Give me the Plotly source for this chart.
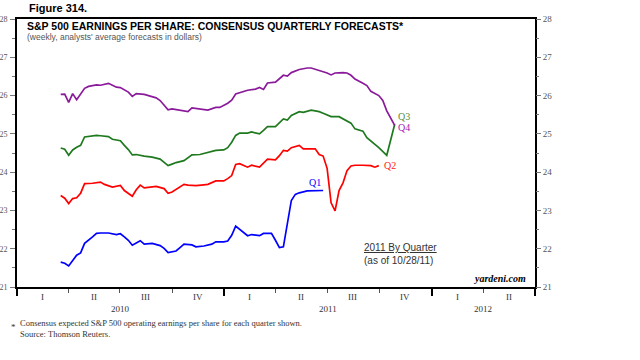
import numpy as np
import pandas as pd
import plotly.graph_objects as go

# weekly observations: week index counted from Friday 2010-01-01
q1_weeks = [11,12,13,14,15,16,17,19,20,21,23,25,26,27,28,29,30,31,32,34,36,37,38,40,41,42,44,45,47,49,50,52,53,54,55,56,57,58,59,61,62,64,65,66,67,68,69,70,71,73,75,77]
q1_vals = [21.65,21.62,21.55,21.69,21.83,21.89,22.14,22.31,22.40,22.41,22.41,22.37,22.39,22.31,22.22,22.09,22.14,22.21,22.12,22.14,22.08,22.01,21.90,21.94,22.03,22.12,22.10,22.05,22.07,22.12,22.18,22.18,22.20,22.35,22.59,22.50,22.41,22.34,22.37,22.34,22.40,22.40,22.22,22.03,22.05,22.66,23.26,23.42,23.46,23.51,23.52,23.52]

q2_weeks = [11,12,13,14,15,16,17,19,21,22,24,26,27,29,30,31,32,35,37,38,39,40,42,43,45,47,48,50,52,53,54,55,56,58,59,61,62,63,65,66,67,68,69,71,72,74,75,76,77,78,79,80,81,82,83,84,85,87,89,90,91]
q2_vals = [23.39,23.32,23.18,23.31,23.33,23.45,23.70,23.71,23.74,23.68,23.61,23.65,23.52,23.37,23.54,23.66,23.59,23.63,23.57,23.45,23.48,23.54,23.68,23.66,23.65,23.67,23.68,23.77,23.77,23.83,23.91,24.20,24.22,24.13,24.18,24.13,24.23,24.34,24.32,24.43,24.57,24.55,24.64,24.70,24.61,24.61,24.61,24.46,24.42,24.10,23.20,22.99,23.52,23.72,24.04,24.16,24.18,24.18,24.17,24.13,24.17]

q3_weeks = [11,12,13,14,15,16,17,18,20,21,23,24,26,27,28,29,30,32,34,36,37,38,39,40,42,43,44,46,48,50,52,53,54,55,56,58,59,61,62,63,65,66,67,68,69,71,72,74,76,77,79,81,82,84,85,87,88,90,91,93,95]
q3_vals = [24.63,24.60,24.44,24.58,24.65,24.70,24.92,24.93,24.96,24.95,24.93,24.86,24.82,24.70,24.59,24.45,24.46,24.42,24.39,24.34,24.25,24.17,24.21,24.25,24.30,24.38,24.45,24.46,24.51,24.57,24.58,24.64,24.78,24.96,25.02,25.02,25.05,25.00,25.09,25.19,25.19,25.30,25.39,25.36,25.48,25.58,25.56,25.62,25.58,25.54,25.45,25.45,25.39,25.28,25.13,25.07,24.90,24.74,24.64,24.44,25.25]

q4_weeks = [11,12,13,14,15,16,17,18,20,21,22,23,24,25,26,27,28,29,30,32,33,35,36,38,39,41,43,44,46,48,50,51,53,54,55,57,58,60,61,62,63,65,66,67,68,69,71,73,74,76,78,79,80,82,83,84,85,87,88,89,91,92,93,95]
q4_vals = [26.03,26.04,25.82,26.05,25.89,26.04,26.19,26.24,26.28,26.27,26.30,26.32,26.27,26.22,26.21,26.14,26.09,25.98,26.05,26.03,26.00,25.94,25.87,25.63,25.65,25.61,25.58,25.68,25.64,25.62,25.69,25.69,25.80,25.88,26.04,26.11,26.14,26.17,26.21,26.16,26.33,26.35,26.43,26.53,26.51,26.60,26.68,26.72,26.72,26.66,26.59,26.54,26.59,26.60,26.59,26.53,26.43,26.32,26.26,26.11,26.00,25.87,25.60,25.22]

series_names = ["Q1", "Q2", "Q3", "Q4"]
series_colors = ["#0000ff", "#ff0000", "#1f7a1f", "#8b1a9b"]
label_colors = ["#0000ff", "#ff2020", "#5a8a3a", "#a020b0"]

quarter_labels = ["I", "II", "III", "IV", "I", "II", "III", "IV", "I", "II"]
quarter_mid = ["2010-02-15", "2010-05-16", "2010-08-15", "2010-11-15",
               "2011-02-15", "2011-05-16", "2011-08-15", "2011-11-15",
               "2012-02-15", "2012-05-16"]
year_labels = ["2010", "2011", "2012"]
year_mid = ["2010-07-02", "2011-07-02", "2012-04-01"]
year_ticks = ["2010-01-01", "2011-01-01", "2012-01-01", "2012-07-01"]
quarter_ticks = ["2010-04-01", "2010-07-01", "2010-10-01", "2011-04-01", "2011-07-01",
                 "2011-10-01", "2012-04-01"]

base = pd.Timestamp("2010-01-01")
def to_dates(w):
    return base + pd.to_timedelta(np.array(w) * 7, unit="D")

weeks_all = [q1_weeks, q2_weeks, q3_weeks, q4_weeks]
vals_all = [q1_vals, q2_vals, q3_vals, q4_vals]

fig = go.Figure()
for name, w, v, c in zip(series_names, weeks_all, vals_all, series_colors):
    fig.add_trace(go.Scatter(x=to_dates(w), y=v, mode="lines", name=name,
                             line=dict(color=c, width=1.7), showlegend=False,
                             hoverinfo="skip"))
# carrier for the right axis
fig.add_trace(go.Scatter(x=[None], y=[None], yaxis="y2", showlegend=False, hoverinfo="skip"))

serif = "Liberation Serif"
sans = "Liberation Sans"
tickfont_l = dict(family=serif, size=8, color="#555555")
tickfont_r = dict(family=serif, size=9, color="#555555")

fig.update_layout(
    width=640, height=360,
    margin=dict(l=17, r=105, t=19, b=73),
    paper_bgcolor="white", plot_bgcolor="white",
    xaxis=dict(type="date", range=["2010-01-01", "2012-07-01"], automargin=False,
               tickvals=year_ticks, ticktext=["", "", "", ""],
               ticks="outside", ticklen=7, tickwidth=1.5, tickcolor="black",
               minor=dict(tickvals=quarter_ticks, ticks="outside", ticklen=4,
                          tickwidth=1, tickcolor="#555555", showgrid=False),
               showgrid=False, zeroline=False,
               showline=True, linewidth=2, linecolor="black", mirror=True),
    yaxis=dict(range=[21, 28], dtick=1, ticks="outside", ticklen=5, tickwidth=1,
               tickcolor="#777777", tickfont=tickfont_l, automargin=False,
               ticklabelstandoff=1,
               minor=dict(dtick=0.5, ticks="outside", ticklen=3, tickcolor="#777777"),
               showgrid=False, zeroline=False,
               showline=True, linewidth=2, linecolor="black", mirror=True),
    yaxis2=dict(range=[21, 28], dtick=1, overlaying="y", side="right", automargin=False,
                ticks="outside", ticklen=5, tickwidth=1, tickcolor="#777777",
                tickfont=tickfont_r,
                minor=dict(dtick=0.5, ticks="outside", ticklen=3, tickcolor="#777777"),
                showgrid=False, zeroline=False, showline=False),
)

fig.add_annotation(text="<b>Figure 314.</b>", xref="paper", yref="paper",
                   x=0.019, y=1.0, yshift=11, xanchor="left", yanchor="middle",
                   showarrow=False, font=dict(family=sans, size=11, color="black"))
fig.add_annotation(text="<b>S&P 500 EARNINGS PER SHARE: CONSENSUS QUARTERLY FORECASTS*</b>",
                   xref="paper", yref="paper", x=0.015, y=0.975,
                   xanchor="left", yanchor="middle", showarrow=False,
                   font=dict(family=sans, size=10.5, color="black"))
fig.add_annotation(text="(weekly, analysts' average forecasts in dollars)",
                   xref="paper", yref="paper", x=0.015, y=0.933,
                   xanchor="left", yanchor="middle", showarrow=False,
                   font=dict(family=sans, size=8.5, color="#555555"))

for ql, qm in zip(quarter_labels, quarter_mid):
    fig.add_annotation(text=ql, x=qm, xref="x", y=0, yref="paper", yshift=-10,
                       xanchor="center", yanchor="middle", showarrow=False,
                       font=dict(family=serif, size=9, color="#333333"))
for yl, ym in zip(year_labels, year_mid):
    fig.add_annotation(text=yl, x=ym, xref="x", y=0, yref="paper", yshift=-22,
                       xanchor="center", yanchor="middle", showarrow=False,
                       font=dict(family=serif, size=9, color="#333333"))

# series end labels
ends = [(w[-1], v[-1]) for w, v in zip(weeks_all, vals_all)]
label_pos = [dict(xanchor="right", yanchor="bottom", xshift=0, yshift=1),
             dict(xanchor="left", yanchor="middle", xshift=3, yshift=0),
             dict(xanchor="left", yanchor="middle", xshift=1, yshift=8),
             dict(xanchor="left", yanchor="middle", xshift=1, yshift=-2)]
for name, (w, v), lc, pos in zip(series_names, ends, label_colors, label_pos):
    fig.add_annotation(text=name, x=to_dates([w])[0], y=v, xref="x", yref="y",
                       showarrow=False, font=dict(family=serif, size=10, color=lc), **pos)

fig.add_annotation(text="<u>2011 By Quarter</u><br>(as of 10/28/11)",
                   xref="paper", yref="paper", x=0.666, y=0.175,
                   xanchor="left", yanchor="top", align="left", showarrow=False,
                   font=dict(family=sans, size=10, color="#333333"))
fig.add_annotation(text="<b><i>yardeni.com</i></b>", xref="paper", yref="paper",
                   x=0.987, y=0.0, yshift=1, xanchor="right", yanchor="bottom",
                   showarrow=False, font=dict(family=serif, size=10, color="black"))

fig.add_annotation(text="*", xref="paper", yref="paper", x=-0.015, y=0, yshift=-33,
                   xanchor="left", yanchor="top", showarrow=False,
                   font=dict(family=serif, size=9, color="#333333"))
fig.add_annotation(text="Consensus expected S&P 500 operating earnings per share for each quarter shown.<br>Source: Thomson Reuters.",
                   xref="paper", yref="paper", x=0.002, y=0, yshift=-29,
                   xanchor="left", yanchor="top", align="left", showarrow=False,
                   font=dict(family=serif, size=8.5, color="#333333"))

fig.write_html("out.html", config={"displayModeBar": False},
               post_script="document.body.style.margin='0';")
